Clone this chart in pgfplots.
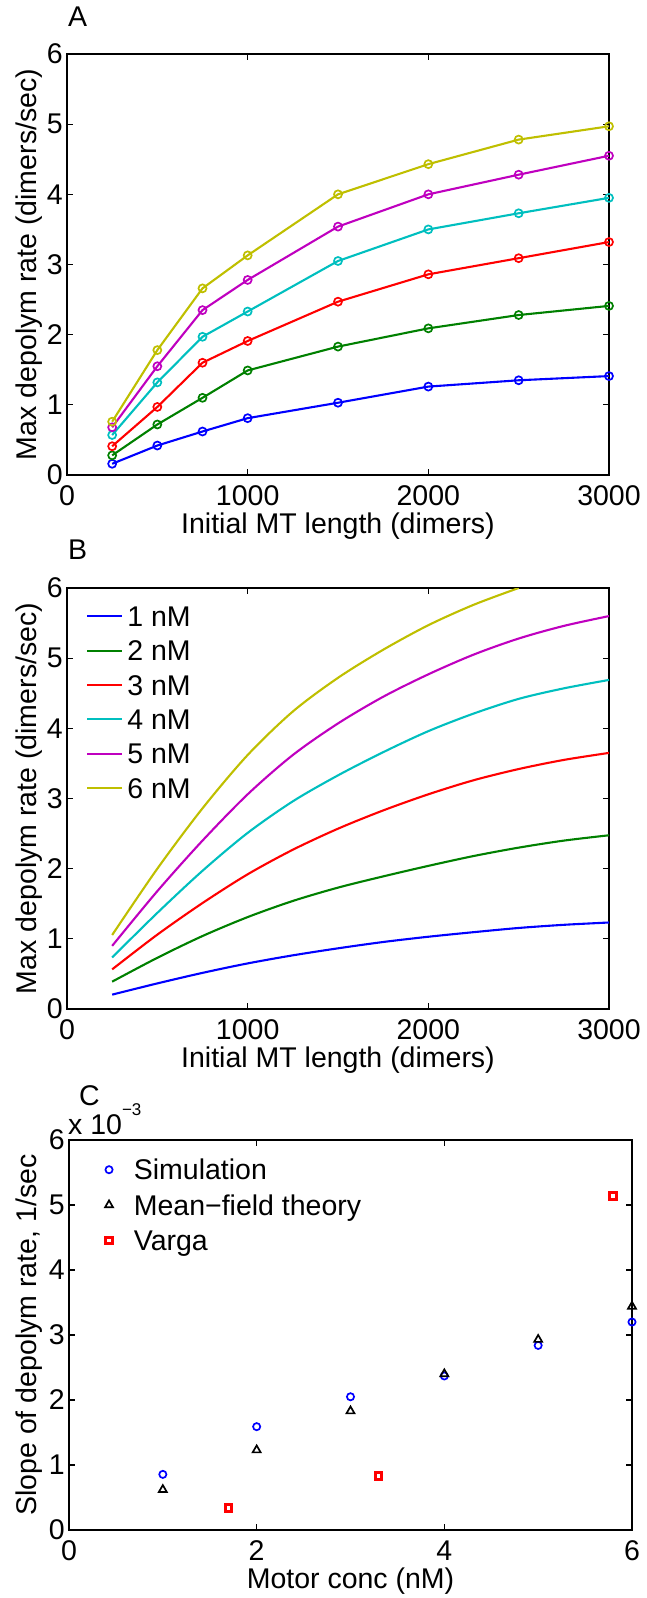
\documentclass[border=0pt]{standalone}
\usepackage{fontspec}
\setmainfont{Liberation Sans}
\usepackage{pgfplots}
\pgfplotsset{compat=1.18}
\definecolor{mblue}{rgb}{0,0,1}
\definecolor{mgreen}{rgb}{0,0.5,0}
\definecolor{mred}{rgb}{1,0,0}
\definecolor{mcyan}{rgb}{0,0.75,0.75}
\definecolor{mmag}{rgb}{0.75,0,0.75}
\definecolor{myel}{rgb}{0.75,0.75,0}
\newcommand{\bigfont}{\fontsize{28.5}{34}\selectfont}
\pgfplotsset{
  mat/.style={
    scale only axis,
    clip mode=individual,
    axis line style={line width=1.3pt},
    tick style={black, line width=1.1pt},
    tick align=inside,
    major tick length=6pt,
    /pgf/number format/assume math mode=true,
    /pgf/number format/1000 sep={},
    scaled ticks=false,
    tick label style={font=\bigfont},
    xticklabel style={anchor=base, inner sep=0pt, yshift=-30pt},
    yticklabel style={anchor=east, inner sep=0pt, xshift=-4pt},
    label style={font=\bigfont, inner sep=0pt},
    title style={font=\bigfont, inner sep=0pt, anchor=base west},
  },
  aline/.style={line width=2.1pt, mark=o, mark size=4pt, mark options={line width=1.7pt}},
  bline/.style={line width=2.1pt, smooth},
  cleg/.style={legend image code/.code={\path (0pt,0pt) (34pt,0pt); \draw[##1] plot coordinates {(10pt,0pt)};}},
}
\begin{document}
\begin{tikzpicture}
\path[use as bounding box] (0pt,0pt) rectangle (646pt,-1598pt);

% ---------------- Panel A ----------------
\begin{axis}[mat, at={(67pt,-475pt)}, anchor=south west, width=542pt, height=421pt,
  xmin=0, xmax=3000, ymin=0, ymax=6,
  xtick={0,1000,2000,3000}, ytick={0,1,2,3,4,5,6},
  xlabel={Initial MT length (dimers)}, ylabel={Max depolym rate (dimers/sec)},
  xlabel style={at={(axis description cs:0.5,-0.1378)}, anchor=base},
  ylabel style={at={(axis description cs:-0.0554,0.5)}, anchor=base},
  title={A}, title style={at={(axis description cs:0.0018,1.0499)}},
]
\addplot[mblue, aline] coordinates {(250,0.16)(500,0.42)(750,0.62)(1000,0.81)(1500,1.03)(2000,1.26)(2500,1.35)(3000,1.41)};
\addplot[mgreen, aline] coordinates {(250,0.28)(500,0.72)(750,1.10)(1000,1.49)(1500,1.83)(2000,2.09)(2500,2.28)(3000,2.41)};
\addplot[mred, aline] coordinates {(250,0.41)(500,0.97)(750,1.60)(1000,1.91)(1500,2.47)(2000,2.86)(2500,3.09)(3000,3.32)};
\addplot[mcyan, aline] coordinates {(250,0.57)(500,1.32)(750,1.97)(1000,2.33)(1500,3.05)(2000,3.50)(2500,3.73)(3000,3.95)};
\addplot[mmag, aline] coordinates {(250,0.68)(500,1.55)(750,2.35)(1000,2.78)(1500,3.54)(2000,4.00)(2500,4.28)(3000,4.55)};
\addplot[myel, aline] coordinates {(250,0.76)(500,1.78)(750,2.66)(1000,3.13)(1500,4.00)(2000,4.43)(2500,4.78)(3000,4.97)};
\end{axis}

% ---------------- Panel B ----------------
\begin{axis}[mat, at={(67pt,-1009pt)}, anchor=south west, width=542pt, height=421pt,
  xmin=0, xmax=3000, ymin=0, ymax=6,
  xtick={0,1000,2000,3000}, ytick={0,1,2,3,4,5,6},
  xlabel={Initial MT length (dimers)}, ylabel={Max depolym rate (dimers/sec)},
  xlabel style={at={(axis description cs:0.5,-0.1378)}, anchor=base},
  ylabel style={at={(axis description cs:-0.0554,0.5)}, anchor=base},
  title={B}, title style={at={(axis description cs:0.0018,1.0523)}},
  legend style={at={(axis description cs:0.0351,0.9572)}, anchor=north west, draw=none, fill=none,
    inner sep=0pt, row sep=14.4pt, column sep=0pt, font=\bigfont,
    nodes={inner sep=0pt, text height=20pt, text depth=0pt}},
  legend cell align=left,
  legend image code/.code={\draw[#1] (0pt,0pt) -- (35pt,0pt); \path (39pt,0pt);},
]
\addplot[mblue, bline] coordinates {(250,0.205)(500,0.365)(750,0.515)(1000,0.65)(1250,0.765)(1500,0.865)(1750,0.955)(2000,1.03)(2250,1.095)(2500,1.155)(2750,1.20)(3000,1.233)};
\addlegendentry{1 nM}
\addplot[mgreen, bline] coordinates {(250,0.39)(500,0.73)(750,1.04)(1000,1.31)(1250,1.54)(1500,1.73)(1750,1.89)(2000,2.04)(2250,2.18)(2500,2.30)(2750,2.40)(3000,2.476)};
\addlegendentry{2 nM}
\addplot[mred, bline] coordinates {(250,0.565)(500,1.06)(750,1.51)(1000,1.92)(1250,2.27)(1500,2.57)(1750,2.83)(2000,3.06)(2250,3.26)(2500,3.42)(2750,3.55)(3000,3.65)};
\addlegendentry{3 nM}
\addplot[mcyan, bline] coordinates {(250,0.735)(500,1.37)(750,1.97)(1000,2.51)(1250,2.96)(1500,3.33)(1750,3.66)(2000,3.96)(2250,4.21)(2500,4.42)(2750,4.57)(3000,4.69)};
\addlegendentry{4 nM}
\addplot[mmag, bline] coordinates {(250,0.90)(500,1.68)(750,2.40)(1000,3.06)(1250,3.62)(1500,4.07)(1750,4.45)(2000,4.77)(2250,5.05)(2500,5.28)(2750,5.46)(3000,5.60)};
\addlegendentry{5 nM}
\addplot[myel, bline] coordinates {(250,1.055)(500,2.0)(750,2.86)(1000,3.62)(1250,4.24)(1500,4.72)(1750,5.12)(2000,5.47)(2250,5.76)(2500,6.0)};
\addlegendentry{6 nM}
\end{axis}

% ---------------- Panel C ----------------
\begin{axis}[mat, at={(69pt,-1530pt)}, anchor=south west, width=563pt, height=390pt,
  xmin=0, xmax=6, ymin=0, ymax=6,
  xtick={0,2,4,6}, ytick={0,1,2,3,4,5,6},
  xlabel={Motor conc (nM)}, ylabel={Slope of depolym rate, 1/sec},
  xlabel style={at={(axis description cs:0.5,-0.1487)}, anchor=base},
  ylabel style={at={(axis description cs:-0.0586,0.5)}, anchor=base},
  title={C}, title style={at={(axis description cs:0.0178,1.0744)}},
  legend style={at={(axis description cs:0.0515,0.95)}, anchor=north west, draw=none, fill=none,
    inner sep=0pt, row sep=15.3pt, column sep=0pt, font=\bigfont,
    nodes={inner sep=0pt, text height=20pt, text depth=0pt}},
  legend cell align=left,
]
\addplot[only marks, mblue, mark=o, mark size=3.6pt, line width=1.7pt, cleg] coordinates {(1,0.856)(2,1.59)(3,2.05)(4,2.37)(5,2.84)(6,3.20)};
\addlegendentry{Simulation}
\addplot[only marks, black, mark=triangle, mark size=4.6pt, line width=1.7pt, cleg] coordinates {(1,0.62)(2,1.23)(3,1.83)(4,2.40)(5,2.93)(6,3.44)};
\addlegendentry{Mean−field theory}
\addplot[only marks, red, mark=square*, mark size=3.3pt, mark options={fill=white, draw=red, line width=3pt}, cleg] coordinates {(1.70,0.34)(3.30,0.83)(5.80,5.14)};
\addlegendentry{Varga}
\node[anchor=base west, inner sep=0pt, font=\bigfont, xshift=-1pt, yshift=6pt] at (rel axis cs:0,1) {x 10\raisebox{19pt}{\fontsize{17}{17}\selectfont −3}};
\end{axis}
\end{tikzpicture}
\end{document}
